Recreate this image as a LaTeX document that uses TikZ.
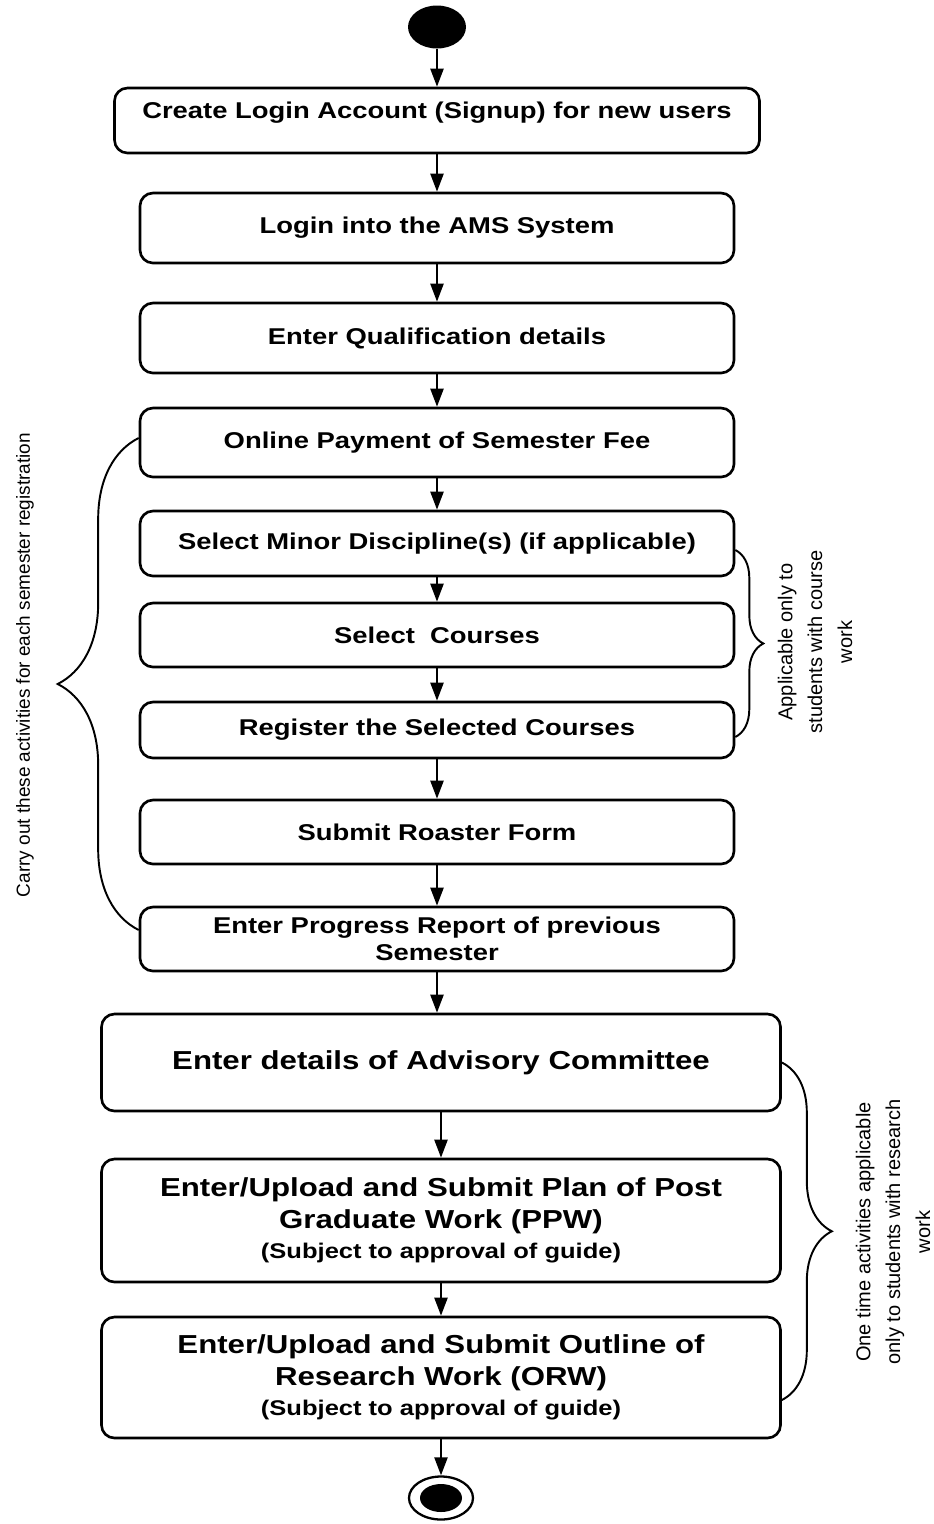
\documentclass[tikz,border=0pt]{standalone}
\usepackage{fontspec}
\setmainfont{Liberation Sans}
\newfontfamily\actfont[FakeStretch=1.2]{Liberation Sans}
\newcommand{\guidefont}{\actfont\bfseries\fontsize{12.1}{14}\selectfont}
\usetikzlibrary{arrows.meta,positioning,shapes.geometric,decorations.pathreplacing}

\begin{document}
\begin{tikzpicture}[
  x=0.2mm, y=-0.2mm,
  act/.style={draw, line width=1.5pt, rounded corners=2.6mm, align=center, minimum width=118.8mm, inner sep=1mm, font=\actfont\bfseries\fontsize{13}{15.5}\selectfont},
  big/.style={act, minimum width=135.8mm, font=\actfont\bfseries\fontsize{14.8}{18.2}\selectfont},
  arr/.style={-{Triangle[length=3.6mm, width=2.6mm]}, line width=1.3pt},
  brc/.style={decorate, line width=1.1pt},
  note/.style={rotate=90, align=center, font=\fontsize{11.4}{17}\selectfont},
]
  \useasboundingbox (0,0) rectangle (934,1524);

  % start and end states
  \node[ellipse, fill=black, minimum width=11.6mm, minimum height=8.6mm, inner sep=0] (start) at (437,27) {};
  \node[ellipse, draw, line width=1.3pt, minimum width=12.8mm, minimum height=8.6mm, inner sep=0] (stop) at (441,1498) {};
  \node[ellipse, fill=black, minimum width=8.4mm, minimum height=5.6mm, inner sep=0] (stopdot) at (stop) {};

  % activities
  \node[act, minimum width=129mm, minimum height=13mm, text depth=4.2mm] (signup) at (437,120.5) {Create Login Account (Signup) for new users};
  \node[act, minimum height=14mm] (login) at (437,228) {Login into the AMS System};
  \node[act, minimum height=14mm] (qual) at (437,338) {Enter Qualification details};
  \node[act, minimum height=13.8mm] (fee) at (437,442.5) {Online Payment of Semester Fee};
  \node[act, minimum height=13mm] (minor) at (437,543.5) {Select Minor Discipline(s) (if applicable)};
  \node[act, minimum height=12.8mm] (courses) at (437,635) {Select\ \ Courses};
  \node[act, minimum height=11.2mm] (register) at (437,730) {Register the Selected Courses};
  \node[act, minimum height=12.8mm] (roaster) at (437,832) {Submit Roaster Form};
  \node[act, minimum height=12.8mm] (progress) at (437,939) {Enter Progress Report of previous\\Semester};
  \node[big, minimum height=19.4mm] (advisory) at (441,1062.5) {Enter details of Advisory Committee};
  \node[big, minimum height=24.6mm] (ppw) at (441,1220.5) {Enter/Upload and Submit Plan of Post\\Graduate Work (PPW)\\[-1.2pt]{\guidefont (Subject to approval of guide)}};
  \node[big, minimum height=24.2mm] (orw) at (441,1377.5) {Enter/Upload and Submit Outline of\\Research Work (ORW)\\[-1.2pt]{\guidefont (Subject to approval of guide)}};

  % flow
  \draw[arr] (start) -- (signup);
  \draw[arr] (signup) -- (login);
  \draw[arr] (login) -- (qual);
  \draw[arr] (qual) -- (fee);
  \draw[arr] (fee) -- (minor);
  \draw[arr] (minor) -- (courses);
  \draw[arr] (courses) -- (register);
  \draw[arr] (register) -- (roaster);
  \draw[arr] (roaster) -- (progress);
  \draw[arr] (progress.south) -- (progress.south |- advisory.north);
  \draw[arr] (advisory) -- (ppw);
  \draw[arr] (ppw) -- (orw);
  \draw[arr] (orw) -- (stop);

  % braces and notes
  \draw[brc, decoration={brace, amplitude=16.2mm}] ([yshift=1.8mm]progress.west) -- ([yshift=0.9mm]fee.west);
  \draw[brc, decoration={brace, amplitude=5.6mm}] ([yshift=-1.3mm]minor.east) -- ([yshift=-1.4mm]register.east);
  \draw[brc, decoration={brace, amplitude=10mm}] (advisory.east) -- ([yshift=-4.5mm]orw.east);
  \node[note, font=\fontsize{10.8}{13}\selectfont] (semnote) at (25,665) {Carry out these activities for each semester registration};
  \node[note] (coursenote) at (815,642) {Applicable only to\\students with course\\work};
  \node[note] (researchnote) at (893,1232) {One time activities applicable\\only to students with research\\work};
\end{tikzpicture}
\end{document}
